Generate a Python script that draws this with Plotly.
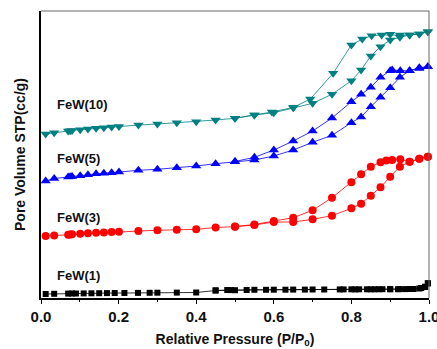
import plotly.graph_objects as go

# Relative pressure (P/P0) values
x_ads = [0.012, 0.034, 0.070, 0.075, 0.080, 0.101, 0.121, 0.142, 0.162, 0.182, 0.201, 0.251,
         0.300, 0.350, 0.400, 0.450, 0.500, 0.550, 0.600, 0.650, 0.700, 0.750, 0.800, 0.825,
         0.850, 0.875, 0.900, 0.925, 0.950, 0.975, 0.997]

# FeW(1)
few1_x_ads = [0.012, 0.034, 0.070, 0.080, 0.090, 0.110, 0.130, 0.150, 0.170, 0.190, 0.215, 0.250,
              0.280, 0.300, 0.350, 0.400, 0.450, 0.480, 0.500, 0.550, 0.600, 0.650, 0.700, 0.770,
              0.800, 0.820, 0.850, 0.870, 0.900, 0.920, 0.940, 0.960, 0.980, 0.990, 0.997]
few1_y_ads = [4.0, 4.2, 4.4, 4.5, 4.5, 4.6, 4.7, 4.8, 4.9, 5.0, 5.0, 5.1,
              5.2, 5.3, 5.4, 5.5, 7.5, 8.0, 7.8, 8.2, 8.3, 8.4, 8.5, 8.6,
              8.7, 8.7, 8.7, 8.8, 8.8, 8.8, 8.9, 9.0, 10.0, 11.3, 14.7]
few1_x_des = [0.997, 0.990, 0.975, 0.950, 0.925, 0.900, 0.880, 0.860, 0.840, 0.810, 0.780, 0.730,
              0.680, 0.630, 0.580, 0.530, 0.490, 0.450]
few1_y_des = [14.7, 11.0, 9.5, 9.0, 8.9, 8.8, 8.8, 8.7, 8.7, 8.6, 8.6, 8.5,
              8.4, 8.3, 8.2, 8.0, 7.9, 7.6]

# FeW(3)
few3_y_ads = [62.0, 62.5, 63.3, 63.5, 63.8, 64.3, 64.7, 65.2, 65.6, 66.0, 66.3, 67.0,
              67.7, 68.3, 68.7, 70.5, 71.3, 73.0, 76.0, 76.0, 78.7, 82.3, 89.7, 94.3,
              102.3, 110.7, 121.3, 131.3, 136.3, 139.3, 141.3]
few3_x_des = [0.997, 0.975, 0.950, 0.926, 0.905, 0.890, 0.875, 0.850, 0.825, 0.800, 0.750, 0.700,
              0.650, 0.600, 0.550, 0.500]
few3_y_des = [141.3, 139.3, 136.3, 138.7, 138.0, 137.5, 135.7, 131.3, 123.7, 115.7, 100.3, 87.7,
              80.3, 77.0, 73.5, 71.5]

# FeW(5)
few5_y_ads = [117.0, 119.5, 121.0, 121.3, 121.6, 122.3, 123.3, 124.3, 124.8, 125.3, 126.0, 127.7,
              128.7, 130.3, 132.0, 134.3, 136.3, 138.0, 142.0, 148.0, 155.7, 162.7, 175.3, 181.0,
              191.3, 200.7, 210.3, 220.7, 227.3, 229.5, 231.3]
few5_x_des = [0.997, 0.975, 0.950, 0.926, 0.905, 0.900, 0.875, 0.850, 0.825, 0.800, 0.750, 0.700,
              0.650, 0.600, 0.550, 0.500]
few5_y_des = [231.3, 230.3, 227.3, 227.3, 228.0, 227.3, 220.7, 210.7, 203.7, 196.3, 180.0, 167.0,
              157.0, 148.0, 140.7, 136.5]

# FeW(10)
few10_y_ads = [164.0, 165.3, 167.0, 167.3, 167.6, 168.3, 169.0, 169.7, 170.3, 170.9, 171.5, 173.0,
               174.0, 175.3, 176.3, 178.0, 179.7, 183.0, 185.3, 190.3, 194.7, 203.7, 217.3, 228.0,
               242.0, 251.3, 258.0, 260.7, 263.0, 264.0, 266.3]
few10_x_des = [0.997, 0.975, 0.950, 0.925, 0.900, 0.878, 0.852, 0.828, 0.800, 0.753, 0.694, 0.651,
               0.595, 0.550, 0.500]
few10_y_des = [266.3, 264.0, 263.0, 263.0, 263.7, 263.0, 262.3, 259.0, 253.0, 224.7, 199.0, 190.7,
               186.0, 183.0, 179.7]

labels = ["FeW(1)", "FeW(3)", "FeW(5)", "FeW(10)"]
label_y = [23, 81, 140, 194]
xticks = [0.0, 0.2, 0.4, 0.6, 0.8, 1.0]
xtick_text = ["0.0", "0.2", "0.4", "0.6", "0.8", "1.0"]

series = [
    (few1_x_ads, few1_y_ads, few1_x_des, few1_y_des, "#000000", "square", 6),
    (x_ads, few3_y_ads, few3_x_des, few3_y_des, "#FF0000", "circle", 8),
    (x_ads, few5_y_ads, few5_x_des, few5_y_des, "#0000FF", "triangle-up", 9),
    (x_ads, few10_y_ads, few10_x_des, few10_y_des, "#008080", "triangle-down", 9),
]

FONT = "Liberation Sans"

fig = go.Figure()
for xa, ya, xd, yd, col, sym, sz in series:
    fig.add_trace(go.Scatter(
        x=list(xa) + list(xd), y=list(ya) + list(yd), mode="lines+markers",
        line=dict(color=col, width=0.8),
        marker=dict(symbol=sym, size=sz, color=col, line=dict(width=0)),
        cliponaxis=False, showlegend=False))

for txt, yy in zip(labels, label_y):
    fig.add_annotation(x=0.036, y=yy, xref="x", yref="y", text=txt, showarrow=False,
                       xanchor="left", yanchor="middle",
                       font=dict(family=FONT, size=13, color="#111", weight="bold"))

fig.update_layout(
    width=437, height=349, margin=dict(l=41, r=8, t=11, b=51),
    paper_bgcolor="white", plot_bgcolor="white",
    xaxis=dict(range=[0, 1.0], tickvals=xticks, ticktext=xtick_text, ticks="outside",
               ticklen=4, tickwidth=1, tickcolor="#000", showgrid=False, zeroline=False,
               showline=True, linecolor="#000", linewidth=1.5, ticklabeloverflow="allow",
               automargin=False,
               minor=dict(dtick=0.1, ticks="outside", ticklen=2, tickcolor="#000"),
               tickfont=dict(family=FONT, size=15, color="#111", weight="bold"),
               title=dict(text="Relative Pressure (P/P<sub>0</sub>)", standoff=10,
                          font=dict(family=FONT, size=14, color="#111", weight="bold"))),
    yaxis=dict(range=[0, 287], showticklabels=False, ticks="", showgrid=False, zeroline=False,
               showline=True, linecolor="#000", linewidth=1.5, automargin=False,
               title=dict(text="Pore Volume STP(cc/g)", standoff=10,
                          font=dict(family=FONT, size=14, color="#111", weight="bold"))),
    shapes=[
        dict(type="line", xref="paper", yref="paper", x0=0, x1=1, y0=1, y1=1,
             line=dict(color="#666", width=1)),
        dict(type="line", xref="paper", yref="paper", x0=1, x1=1, y0=0, y1=1,
             line=dict(color="#666", width=1)),
    ],
)

fig.write_html("out.html")
